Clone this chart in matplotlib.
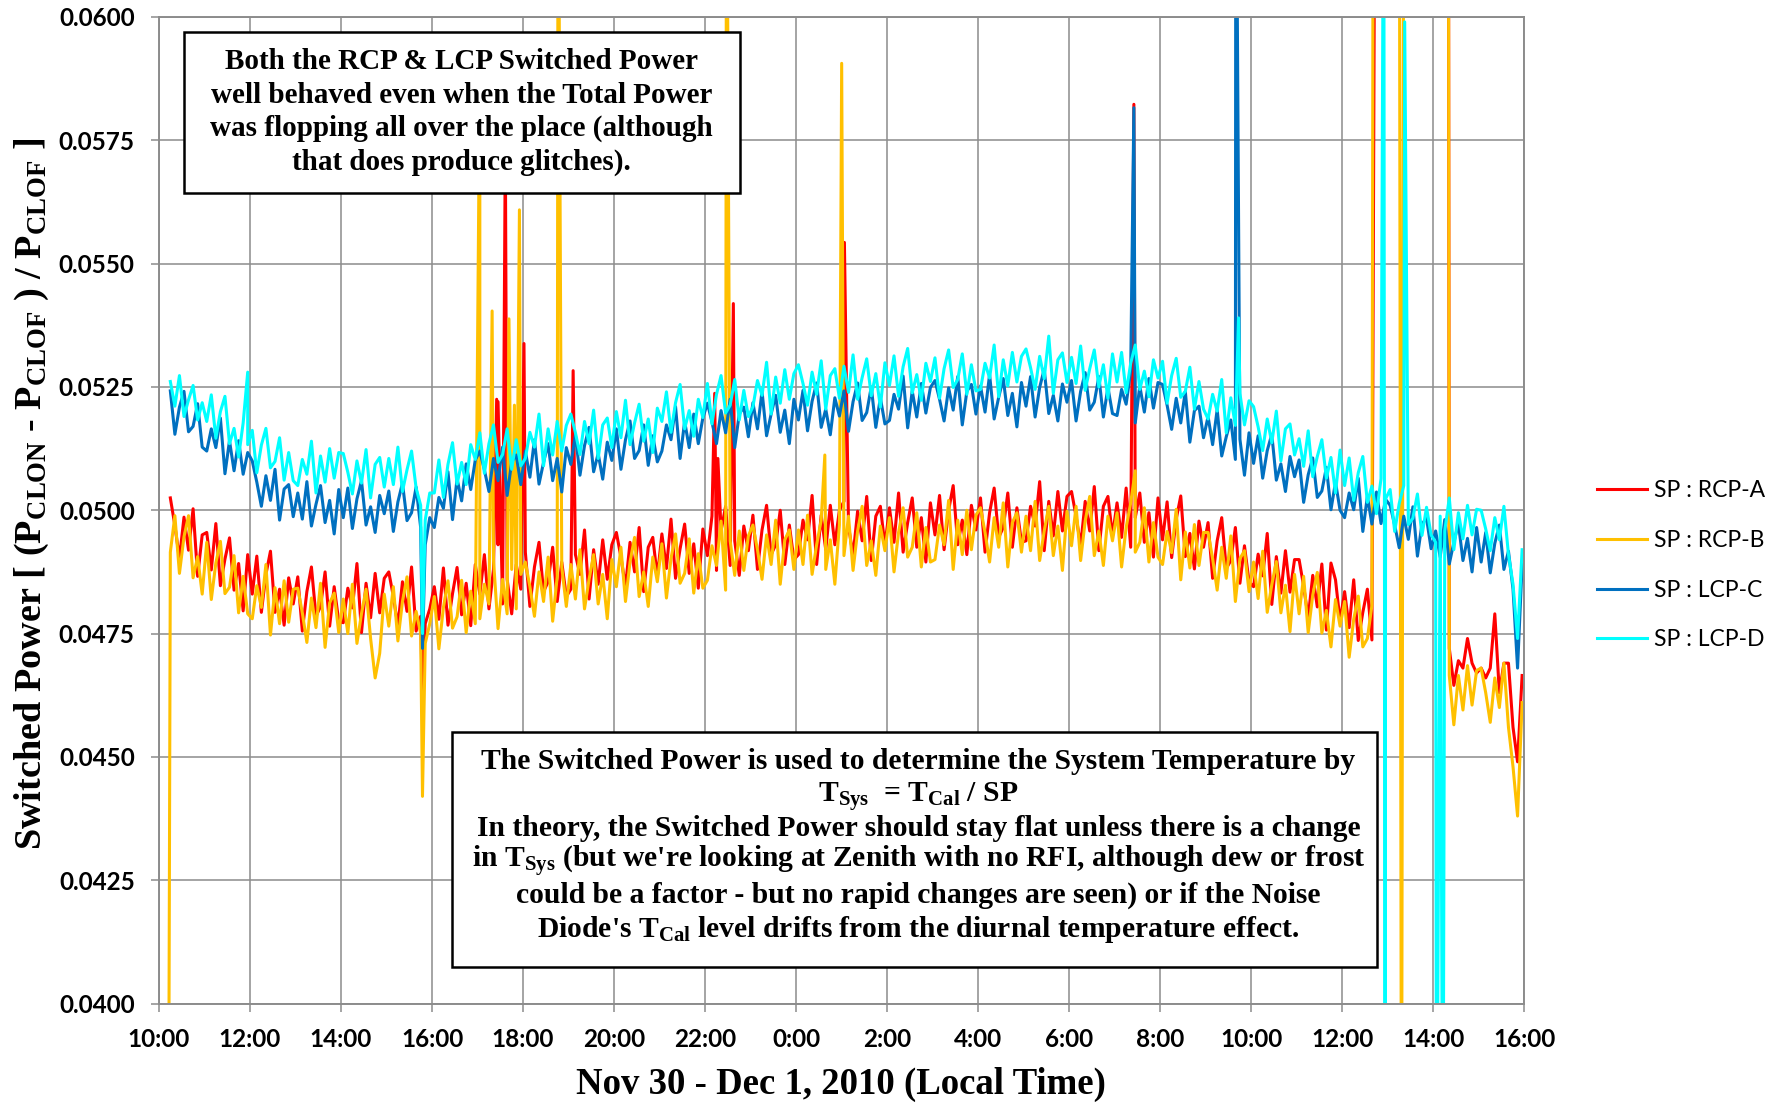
import numpy as np
import matplotlib
matplotlib.use("Agg")
from matplotlib import pyplot as plt
from matplotlib.patches import Rectangle

# Sampling: hours after 10:00 on Nov 30, one reading every 0.1 h from 10:15
START_HOUR = 0.25
STEP_HOUR = 0.1

# Switched power, in units of 1e-5 (one row per clock hour, 10:xx first)
rcp_a = [
    5025, 4969, 4902, 4986, 4919, 5003, 4866, 4950,
    4955, 4879, 4973, 4847, 4901, 4944, 4838, 4892, 4796, 4910,
    4830, 4907, 4793, 4870, 4917, 4793, 4840, 4767, 4863, 4810,
    4865, 4755, 4835, 4885, 4785, 4805, 4875, 4765, 4845, 4775,
    4772, 4842, 4802, 4892, 4752, 4852, 4782, 4872, 4792, 4862,
    4875, 4825, 4765, 4855, 4795, 4885, 4755, 4785, 4770, 4800,
    4845, 4779, 4883, 4767, 4831, 4884, 4788, 4852, 4766, 4890,
    4830, 4910, 4800, 4880, 4930, 4810, 4860, 4790, 4890, 4840,
    4915, 4805, 4885, 4935, 4835, 4855, 4925, 4815, 4895, 4825,
    4840, 4910, 4870, 4960, 4820, 4920, 4850, 4940, 4860, 4930,
    4955, 4905, 4845, 4935, 4875, 4965, 4835, 4925, 4945, 4865,
    4952, 4882, 4982, 4862, 4922, 4972, 4872, 4932, 4842, 4962,
    4908, 4988, 4878, 4958, 5008, 4888, 4938, 4868, 4968, 4918,
    4990, 4880, 4960, 5010, 4910, 4930, 5000, 4890, 4970, 4900,
    4910, 4980, 4940, 5030, 4890, 4990, 4920, 5010, 4930, 5000,
    5018, 4968, 4908, 4998, 4938, 5028, 4898, 4988, 5008, 4928,
    5005, 4935, 5035, 4915, 4975, 5025, 4925, 4985, 4895, 5015,
    4950, 5030, 4920, 5000, 5050, 4930, 4980, 4910, 5010, 4960,
    5025, 4915, 4995, 5045, 4945, 4965, 5035, 4925, 5005, 4935,
    4938, 5008, 4968, 5058, 4918, 5018, 4948, 5038, 4958, 5028,
    5038, 4988, 4928, 5018, 4958, 5048, 4918, 5008, 5028, 4948,
    5015, 4945, 5045, 4925, 4985, 5035, 4935, 4995, 4905, 5025,
    4940, 5017, 4904, 4982, 5029, 4906, 4953, 4881, 4978, 4925,
    4975, 4862, 4938, 4985, 4882, 4898, 4965, 4852, 4928, 4855,
    4845, 4911, 4867, 4953, 4809, 4906, 4832, 4918, 4834, 4900,
    4900, 4846, 4782, 4868, 4804, 4891, 4757, 4893, 4859, 4775,
    4835, 4762, 4859, 4736, 4793, 4840, 4737, 6500, 6500, 6500,
    6500, 6500, 6500, 6500, 6500, 6500, 6500, 6500, 6500, 6500,
    6500, 6500, 6500, 4720, 4645, 4695, 4680, 4740, 4690, 4670,
    4680, 4660, 4680, 4790, 4630, 4690, 4690, 4560, 4490, 4665,
]
rcp_b = [
    4915, 4989, 4872, 4946, 4989, 4863, 4906, 4830,
    4935, 4819, 4893, 4937, 4831, 4844, 4908, 4792, 4866, 4790,
    4780, 4847, 4803, 4890, 4747, 4843, 4770, 4857, 4773, 4840,
    4842, 4792, 4732, 4822, 4762, 4852, 4722, 4812, 4832, 4752,
    4820, 4750, 4850, 4730, 4790, 4840, 4740, 4660, 4710, 4830,
    4765, 4845, 4735, 4815, 4865, 4745, 4795, 4750, 4730, 4770,
    4825, 4719, 4803, 4857, 4761, 4784, 4858, 4752, 4836, 4770,
    4780, 4850, 4810, 4900, 4760, 4860, 4790, 4880, 4800, 4870,
    4895, 4845, 4785, 4875, 4815, 4905, 4775, 4865, 4885, 4805,
    4890, 4820, 4920, 4800, 4860, 4910, 4810, 4870, 4780, 4900,
    4845, 4925, 4815, 4895, 4945, 4825, 4875, 4805, 4905, 4855,
    4932, 4822, 4902, 4952, 4852, 4872, 4942, 4832, 4912, 4842,
    4858, 4928, 4888, 4978, 4838, 4938, 4868, 4958, 4878, 4948,
    4970, 4920, 4860, 4950, 4890, 4980, 4850, 4940, 4960, 4880,
    4960, 4890, 4990, 4870, 4930, 4980, 4880, 4940, 4850, 4970,
    4908, 4988, 4878, 4958, 5008, 4888, 4938, 4868, 4968, 4918,
    4985, 4875, 4955, 5005, 4905, 4925, 4995, 4885, 4965, 4895,
    4900, 4970, 4930, 5020, 4880, 4980, 4910, 5000, 4920, 4990,
    5005, 4955, 4895, 4985, 4925, 5015, 4885, 4975, 4995, 4915,
    4988, 4918, 5018, 4898, 4958, 5008, 4908, 4968, 4878, 4998,
    4928, 5008, 4898, 4978, 5028, 4908, 4958, 4888, 4988, 4938,
    4995, 4885, 4965, 5015, 4915, 4935, 5005, 4895, 4975, 4905,
    4890, 4957, 4914, 5002, 4859, 4956, 4883, 4971, 4888, 4955,
    4955, 4902, 4838, 4925, 4862, 4948, 4815, 4902, 4918, 4835,
    4895, 4821, 4917, 4793, 4849, 4896, 4792, 4848, 4754, 4870,
    4790, 4866, 4752, 4828, 4874, 4751, 4797, 4723, 4819, 4765,
    4815, 4702, 4779, 4826, 4723, 4740, 4807, 6500, 6500, 6500,
    6500, 6500, 6500, 6500, 6500, 6500, 6500, 6500, 6500, 6500,
    6500, 6500, 6500, 4665, 4565, 4665, 4595, 4685, 4605, 4675,
    4680, 4630, 4570, 4660, 4600, 4690, 4560, 4480, 4380, 4610,
]
lcp_c = [
    5242, 5154, 5209, 5241, 5159, 5170, 5216, 5128,
    5120, 5165, 5127, 5187, 5074, 5141, 5080, 5141, 5073, 5117,
    5100, 5057, 5008, 5070, 5020, 5083, 4980, 5043, 5052, 4987,
    5035, 4982, 5058, 4968, 5012, 5050, 4975, 5020, 4952, 5042,
    4985, 5045, 4963, 5023, 5060, 4970, 5007, 4955, 5030, 4993,
    5039, 4957, 5017, 5055, 4979, 4995, 5047, 4965, 4930, 4985,
    4965, 5026, 5004, 5078, 4981, 5064, 5019, 5094, 5042, 5102,
    5120, 5082, 5038, 5105, 5060, 5128, 5030, 5098, 5112, 5052,
    5120, 5067, 5143, 5053, 5097, 5135, 5060, 5105, 5037, 5127,
    5093, 5153, 5071, 5131, 5168, 5078, 5115, 5063, 5138, 5101,
    5165, 5083, 5143, 5181, 5105, 5121, 5173, 5091, 5151, 5098,
    5120, 5173, 5143, 5210, 5105, 5180, 5127, 5195, 5135, 5187,
    5217, 5179, 5135, 5202, 5157, 5225, 5127, 5195, 5209, 5149,
    5218, 5165, 5241, 5151, 5195, 5233, 5158, 5203, 5135, 5225,
    5183, 5243, 5161, 5221, 5258, 5168, 5205, 5153, 5228, 5191,
    5242, 5160, 5220, 5258, 5182, 5198, 5250, 5168, 5228, 5175,
    5182, 5235, 5205, 5272, 5167, 5242, 5189, 5257, 5197, 5249,
    5263, 5225, 5181, 5248, 5203, 5271, 5173, 5241, 5255, 5195,
    5252, 5199, 5275, 5185, 5229, 5267, 5192, 5237, 5169, 5259,
    5211, 5271, 5189, 5249, 5286, 5196, 5233, 5181, 5256, 5219,
    5263, 5181, 5241, 5279, 5203, 5219, 5271, 5189, 5249, 5196,
    5192, 5245, 5215, 5282, 5177, 5252, 5199, 5267, 5207, 5259,
    5255, 5213, 5164, 5227, 5177, 5241, 5138, 5202, 5211, 5147,
    5190, 5133, 5204, 5110, 5149, 5183, 5103, 5144, 5071, 5157,
    5095, 5151, 5065, 5121, 5154, 5061, 5094, 5038, 5109, 5068,
    5102, 5016, 5072, 5106, 5026, 5039, 5087, 5001, 5057, 5000,
    4985, 5035, 5001, 5065, 4957, 5028, 4972, 5037, 4973, 5022,
    5010, 4970, 4924, 4988, 4941, 5007, 4907, 4972, 4984, 4922,
    4958, 4905, 4981, 4891, 4935, 4973, 4898, 4943, 4875, 4965,
    4895, 4955, 4873, 4933, 4970, 4880, 4917, 4840, 4680, 4890,
]
lcp_d = [
    5261, 5211, 5273, 5190, 5224, 5253, 5183, 5218,
    5180, 5234, 5146, 5200, 5231, 5135, 5166, 5108, 5177, 5133,
    5162, 5076, 5132, 5166, 5086, 5099, 5147, 5061, 5117, 5060,
    5050, 5103, 5073, 5140, 5035, 5110, 5057, 5125, 5065, 5117,
    5115, 5077, 5033, 5100, 5055, 5123, 5025, 5093, 5107, 5047,
    5105, 5052, 5128, 5038, 5082, 5120, 5045, 5010, 4980, 5035,
    5035, 5102, 5026, 5093, 5137, 5053, 5097, 5052, 5133, 5103,
    5157, 5075, 5135, 5173, 5097, 5113, 5165, 5083, 5143, 5090,
    5105, 5158, 5128, 5195, 5090, 5165, 5112, 5180, 5120, 5172,
    5195, 5157, 5113, 5180, 5135, 5203, 5105, 5173, 5187, 5127,
    5200, 5147, 5223, 5133, 5177, 5215, 5140, 5185, 5117, 5207,
    5180, 5240, 5158, 5218, 5255, 5165, 5202, 5150, 5225, 5188,
    5257, 5175, 5235, 5273, 5197, 5213, 5265, 5183, 5243, 5190,
    5210, 5263, 5233, 5300, 5195, 5270, 5217, 5285, 5225, 5277,
    5295, 5257, 5213, 5280, 5235, 5303, 5205, 5273, 5287, 5227,
    5292, 5239, 5315, 5225, 5269, 5307, 5232, 5277, 5209, 5299,
    5253, 5313, 5231, 5291, 5328, 5238, 5275, 5223, 5298, 5261,
    5309, 5227, 5287, 5325, 5249, 5265, 5317, 5235, 5295, 5242,
    5245, 5298, 5268, 5335, 5230, 5305, 5252, 5320, 5260, 5312,
    5327, 5289, 5245, 5312, 5267, 5353, 5237, 5305, 5319, 5259,
    5310, 5257, 5333, 5243, 5287, 5325, 5250, 5295, 5227, 5317,
    5260, 5320, 5238, 5298, 5335, 5245, 5282, 5230, 5305, 5268,
    5302, 5217, 5273, 5308, 5229, 5241, 5290, 5205, 5261, 5205,
    5185, 5235, 5201, 5265, 5157, 5228, 5172, 5237, 5173, 5222,
    5210, 5169, 5121, 5185, 5137, 5201, 5100, 5165, 5175, 5112,
    5145, 5089, 5161, 5068, 5109, 5143, 5065, 5107, 5035, 5122,
    5050, 5106, 5020, 5076, 5109, 5016, 5049, 4993, 5064, 5023,
    5042, 4957, 5014, 5050, 4971, 4984, 5033, 4949, 5006, 4950,
    4935, 4988, 4958, 5025, 4920, 4995, 4942, 5010, 4950, 5002,
    5000, 4962, 4918, 4985, 4940, 5008, 4910, 4850, 4740, 4920,
]

# Single-reading glitches: (hours after 10:00, value in 1e-5)
rcp_a_glitches = [(5.79, 4600), (7.42, 5225), (7.45, 5220), (7.61, 5750), (8.02, 5338),
                  (9.10, 5283), (12.21, 5237), (12.28, 5105), (12.62, 5419), (15.06, 5543),
                  (21.42, 5823), (26.72, 6500), (28.33, 6500)]
rcp_b_glitches = [(0.22, 3950), (5.79, 4420), (7.05, 5900), (7.32, 5404), (7.69, 5388),
                  (7.81, 5213), (7.92, 5609), (8.77, 6500), (12.47, 6500), (14.63, 5112),
                  (15.00, 5906), (21.45, 5080), (26.68, 6500), (27.30, 3500), (28.33, 6500)]
lcp_c_glitches = [(5.79, 4720), (21.42, 5816), (23.66, 6500)]
lcp_d_glitches = [(1.95, 5280), (5.79, 4750), (23.72, 5390), (26.91, 6500), (26.94, 3500),
                  (27.37, 5990), (28.07, 3500), (28.21, 3500)]

series_names = ["SP : RCP-A", "SP : RCP-B", "SP : LCP-C", "SP : LCP-D"]
series_colors = ["#FF0000", "#FFC000", "#0070C0", "#00FFFF"]

tick_hours = list(range(0, 31, 2))
tick_labels = ["10:00", "12:00", "14:00", "16:00", "18:00", "20:00", "22:00", "0:00",
               "2:00", "4:00", "6:00", "8:00", "10:00", "12:00", "14:00", "16:00"]

box1_lines = ["Both the RCP & LCP Switched Power",
              "well behaved even when the Total Power",
              "was flopping all over the place (although",
              "that does produce glitches)."]
box2_lines = ["The Switched Power is used to determine the System Temperature by",
              r"T$_{\mathrm{Sys}}$  = T$_{\mathrm{Cal}}$ / SP",
              "In theory, the Switched Power should stay flat unless there is a change",
              r"in T$_{\mathrm{Sys}}$ (but we're looking at Zenith with no RFI, although dew or frost",
              "could be a factor - but no rapid changes are seen) or if the Noise",
              r"Diode's T$_{\mathrm{Cal}}$ level drifts from the diurnal temperature effect."]


def with_glitches(base, glitches):
    hours = START_HOUR + STEP_HOUR * np.arange(len(base))
    values = np.array(base, dtype=float)
    if glitches:
        g_hours, g_values = zip(*glitches)
        hours = np.concatenate([hours, g_hours])
        values = np.concatenate([values, g_values])
    order = np.argsort(hours, kind="stable")
    return hours[order], values[order] * 1e-5


def text_box(fig, rect, lines, x_center, baselines, size):
    fig.patches.append(Rectangle(rect[:2], rect[2], rect[3], transform=fig.transFigure,
                                 facecolor="white", edgecolor="black", lw=1.8, zorder=2))
    for line, y in zip(lines, baselines):
        fig.text(x_center, y, line, ha="center", va="baseline", family="Liberation Serif",
                 weight="bold", fontsize=size, zorder=3)


plt.rcParams["mathtext.fontset"] = "custom"
plt.rcParams["mathtext.rm"] = "Liberation Serif:bold"
plt.rcParams["mathtext.it"] = "Liberation Serif:bold"
plt.rcParams["mathtext.bf"] = "Liberation Serif:bold"

fig = plt.figure(figsize=(17.8, 11.03), dpi=100)
ax = fig.add_axes([0.0893, 0.0902, 0.7671, 0.8944])

grid_color = "#8C8C8C"
all_series = [(rcp_a, rcp_a_glitches), (rcp_b, rcp_b_glitches),
              (lcp_c, lcp_c_glitches), (lcp_d, lcp_d_glitches)]
for (base, glitches), name, color in zip(all_series, series_names, series_colors):
    x, y = with_glitches(base, glitches)
    ax.plot(x, y, color=color, lw=2.2, label=name)

ax.set_xlim(0, 30)
ax.set_ylim(0.04, 0.06)
ax.set_xticks(tick_hours)
ax.set_xticklabels(tick_labels)
ax.set_yticks(np.arange(0.04, 0.06001, 0.0025))
ax.yaxis.set_major_formatter(matplotlib.ticker.FormatStrFormatter("%.4f"))
ax.grid(True, color=grid_color, lw=1.1)
ax.set_axisbelow(True)
for spine in ax.spines.values():
    spine.set_color(grid_color)
    spine.set_linewidth(1.4)
ax.tick_params(axis="both", direction="out", length=5.5, width=1.1, color=grid_color, pad=12)
for label in ax.get_xticklabels() + ax.get_yticklabels():
    label.set_fontfamily("Lato")
    label.set_fontweight("bold")
    label.set_fontsize(17.5)

# Axis titles
fig.text(0.018, 0.552, r"Switched Power [ (P$_{\mathrm{CLON}}$ - P$_{\mathrm{CLOF}}$ ) / P$_{\mathrm{CLOF}}$ ]",
         rotation=90, ha="center", va="center", family="Liberation Serif", weight="bold", fontsize=27.5)
fig.text(0.4726, 0.0172, "Nov 30 - Dec 1, 2010 (Local Time)", ha="center", va="center",
         family="Liberation Serif", weight="bold", fontsize=26.5)

# Annotation boxes
text_box(fig, (0.1034, 0.825, 0.3124, 0.146), box1_lines, 0.2593,
         [0.9372, 0.9069, 0.8767, 0.8465], 21)
text_box(fig, (0.2538, 0.1233, 0.5197, 0.2131), box2_lines, 0.516,
         [0.3028, 0.2729, 0.2421, 0.2131, 0.1813, 0.1505], 21.3)

handles, labels = ax.get_legend_handles_labels()
fig.legend(handles, labels, loc="center left", bbox_to_anchor=(0.8972, 0.4875), frameon=False,
           prop={"family": "Lato", "size": 16.5}, handlelength=2.2, handletextpad=0.3,
           labelspacing=1.25, borderpad=0, borderaxespad=0)

fig.savefig("out.png", dpi=100)
